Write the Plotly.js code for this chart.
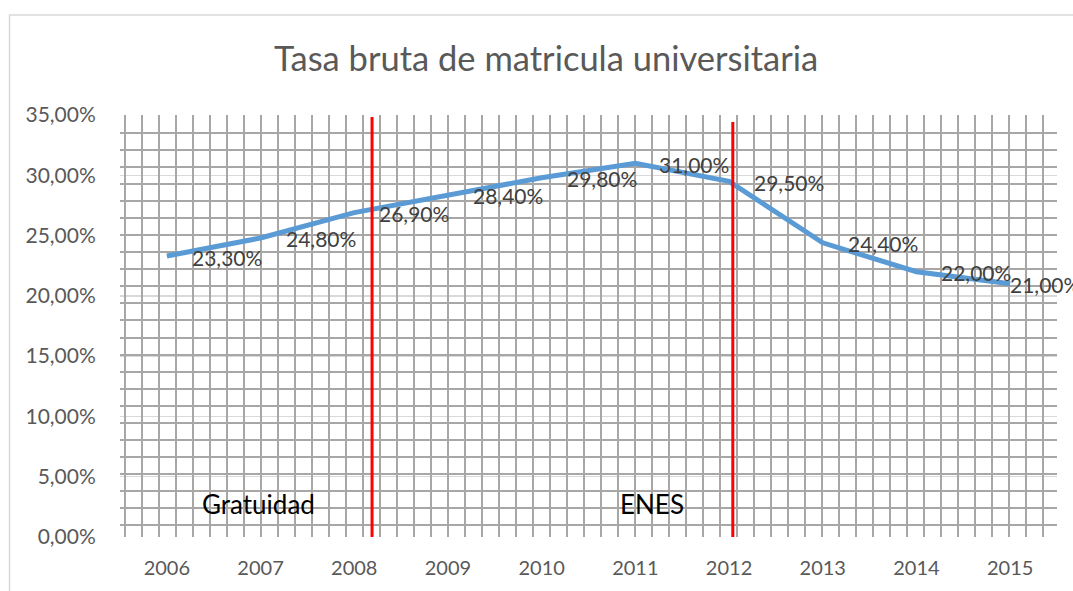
<!DOCTYPE html>
<html>
<head>
<meta charset="utf-8">
<script src="https://cdn.plot.ly/plotly-3.0.1.min.js"></script>
<style>html,body{margin:0;padding:0;background:#fff;}#chart{width:1073px;height:591px;}</style>
</head>
<body>
<div id="chart"></div>
<script>
// ---- data ----
const years = ['2006','2007','2008','2009','2010','2011','2012','2013','2014','2015'];
const tasa = [0.233, 0.248, 0.269, 0.284, 0.298, 0.310, 0.295, 0.244, 0.220, 0.210];
const chartTitle = 'Tasa bruta de matricula universitaria';
const eventLabels = ['Gratuidad', 'ENES'];
// ---- styling / placement (not data) ----
const labelShift = [23, 23, 23, 23, 23, 22, 23, 23, 23, -2];
const eventLinePos = [2.19, 6.04];
const eventLineTop = [0.3483, 0.3442];
const eventLineBottom = [-0.005, -0.0025];
const eventTextPos = [0.973, 5.178];
const eventTextY = 0.027;

const FONT = 'Lato, "Open Sans", sans-serif';

const traces = [
  {x: years, y: tasa, type: 'scatter', mode: 'lines',
   line: {color: '#5b9bd5', width: 5}, hoverinfo: 'skip', showlegend: false},
  {x: [], y: [], xaxis: 'x2', yaxis: 'y2', type: 'scatter', mode: 'lines',
   hoverinfo: 'skip', showlegend: false}
];

// label text formatted with decimal comma
const fmt = v => (v * 100).toFixed(2).replace('.', ',') + '%';
const labelAnn = years.map((yr, i) => ({
  x: i, y: tasa[i], xref: 'x', yref: 'y',
  text: fmt(tasa[i]), showarrow: false,
  xanchor: 'left', yanchor: 'middle', xshift: labelShift[i], yshift: -1,
  font: {family: FONT, size: 21, color: '#404040'}
}));
const eventAnn = eventLabels.map((t, i) => ({
  x: eventTextPos[i], y: eventTextY, xref: 'x', yref: 'y',
  text: t, showarrow: false, xanchor: 'center', yanchor: 'middle',
  font: {family: FONT, size: 26, color: '#000000'}
}));

const shapes = eventLinePos.map((p, i) => ({
  type: 'line', xref: 'x', yref: 'y', x0: p, x1: p,
  y0: eventLineBottom[i], y1: eventLineTop[i],
  line: {color: '#ff0000', width: 3}, layer: 'above'
}));
shapes.push({type: 'rect', xref: 'paper', yref: 'paper',
  x0: -0.1179, x1: 1.2, y0: -0.3, y1: 1.237,
  line: {color: '#d9d9d9', width: 1.5}, fillcolor: 'rgba(0,0,0,0)', layer: 'below'});

const layout = {
  width: 1073, height: 591,
  margin: {l: 120, r: 16, t: 115, b: 54},
  paper_bgcolor: '#ffffff', plot_bgcolor: '#ffffff',
  separators: ',.',
  showlegend: false,
  font: {family: FONT, color: '#595959'},
  title: {text: chartTitle, x: 0.509, xanchor: 'center', y: 0.9, yanchor: 'middle',
          font: {family: FONT, size: 34.5, color: '#595959'}},
  xaxis: {type: 'category', range: [-0.5, 9.5], showgrid: false, zeroline: false,
          showline: false, ticks: 'outside', ticklen: 13, tickcolor: 'rgba(0,0,0,0)',
          tickfont: {family: FONT, size: 20, color: '#595959'}, fixedrange: true},
  yaxis: {range: [0, 0.35], dtick: 0.05, tickformat: '.2%', showgrid: true,
          gridcolor: '#d9d9d9', gridwidth: 1.5, zeroline: false, showline: false,
          ticks: 'outside', ticklen: 19, tickcolor: 'rgba(0,0,0,0)',
          tickfont: {family: FONT, size: 21, color: '#595959'}, fixedrange: true},
  xaxis2: {overlaying: 'x', side: 'top', range: [0, 937], tick0: 5, dtick: 17,
           showgrid: true, gridcolor: '#a9a6a6', gridwidth: 2, zeroline: false,
           showticklabels: false, ticks: '', showline: false, fixedrange: true},
  yaxis2: {overlaying: 'y', side: 'right', range: [422, 0], tick0: 1, dtick: 17.04,
           showgrid: true, gridcolor: '#a9a6a6', gridwidth: 2, zeroline: false,
           showticklabels: false, ticks: '', showline: false, fixedrange: true},
  annotations: labelAnn.concat(eventAnn),
  shapes: shapes
};

Plotly.newPlot('chart', traces, layout, {staticPlot: true, displayModeBar: false});
</script>
</body>
</html>
